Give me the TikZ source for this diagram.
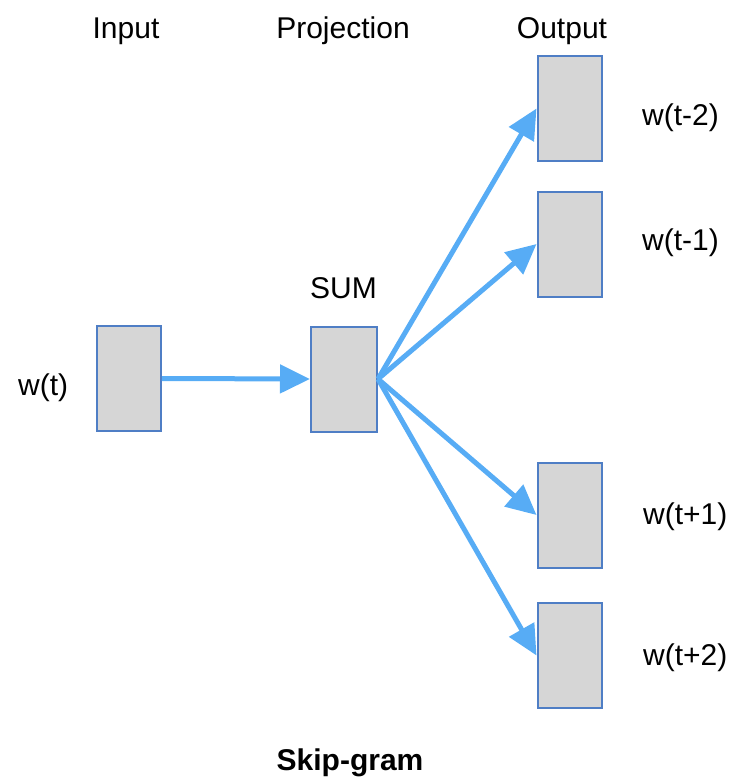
\documentclass[tikz,border=0pt]{standalone}
\usepackage{fontspec}
\setmainfont{Liberation Sans}
\usetikzlibrary{arrows.meta}
\definecolor{arrowblue}{HTML}{57ACF5}
\definecolor{boxedge}{HTML}{4F7EC5}
\definecolor{boxfill}{HTML}{D6D6D6}
\begin{document}
\begin{tikzpicture}[x=1pt,y=-1pt,
  vecbox/.style={draw=boxedge,fill=boxfill,line width=2pt,minimum width=64pt,minimum height=105pt,inner sep=0pt},
  lbl/.style={font=\fontsize{30}{36}\selectfont,inner sep=0pt,anchor=base},
  lblw/.style={font=\fontsize{30}{36}\selectfont,inner sep=0pt,anchor=base west},
  flow/.style={draw=arrowblue,line width=5pt,-{Triangle[length=30pt,width=28pt]}}]
\useasboundingbox (0,0) rectangle (737,781);
\node[vecbox] (in) at (129,378.5) {};
\node[vecbox,minimum width=66pt] (sum) at (344,379) {};
\node[vecbox] (o1) at (569.5,108.5) {};
\node[vecbox] (o2) at (569.5,244) {};
\node[vecbox] (o3) at (569.5,515) {};
\node[vecbox] (o4) at (569.5,655.5) {};
\node[lbl] (tin) at (126,39) {Input};
\node[lbl] (tproj) at (343,39) {Projection};
\node[lbl] (tout) at (562,39) {Output};
\node[lbl] (tsum) at (343.5,298) {SUM};
\node[lblw] (lwt) at (18,395) {w(t)};
\node[lblw] (l1) at (642,125.5) {w(t-2)};
\node[lblw] (l2) at (642,250) {w(t-1)};
\node[lblw] (l3) at (643,524.5) {w(t+1)};
\node[lblw] (l4) at (643,665.5) {w(t+2)};
\node[lbl,font=\fontsize{30}{36}\selectfont\bfseries] (title) at (350,770) {Skip-gram};
\draw[flow] (in.east) -- (sum.west);
\draw[flow] (sum.east) -- (o1.west);
\draw[flow] (sum.east) -- (o2.west);
\draw[flow] (sum.east) -- (o3.west);
\draw[flow] (sum.east) -- (o4.west);
\end{tikzpicture}
\end{document}
